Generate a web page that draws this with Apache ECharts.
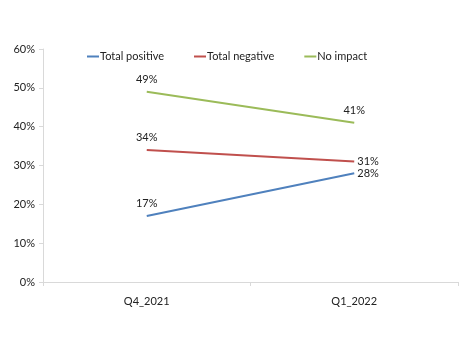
<!DOCTYPE html>
<html><head><meta charset="utf-8">
<script src="https://cdn.jsdelivr.net/npm/echarts@6/dist/echarts.min.js"></script>
<style>html,body{margin:0;padding:0;background:#fff}#c{width:468px;height:352px}</style>
</head><body><div id="c"></div>
<script>
const categories = ['Q4_2021', 'Q1_2022'];
const totalPositive = [17, 28];
const totalNegative = [34, 31];
const noImpact = [49, 41];
const yTicks = [0, 10, 20, 30, 40, 50, 60];

const font = 'Lato';
const chart = echarts.init(document.getElementById('c'));
function series(name, data, color, posArr) {
  return {
    name, type: 'line', data: data.map((v, i) => ({
      value: v,
      label: { position: posArr[i], distance: posArr[i] === 'right' ? 3 : 7 }
    })),
    symbol: 'circle', symbolSize: 0, showSymbol: true,
    lineStyle: { color, width: 2 }, itemStyle: { color },
    label: { show: true, fontFamily: font, fontSize: 11, color: '#222', formatter: p => p.value + '%' },
    animation: false
  };
}
chart.setOption({
  animation: false,
  grid: { left: 43, right: 10, top: 49, bottom: 70 },
  legend: {
    left: 82, top: 46, itemWidth: 12, itemHeight: 2, itemGap: 30,
    icon: 'rect',
    textStyle: { fontFamily: font, fontSize: 11, color: '#222', padding: [0, 0, 0, -4] },
    data: ['Total positive', 'Total negative', 'No impact']
  },
  xAxis: {
    type: 'category', data: categories, boundaryGap: true,
    axisLine: { lineStyle: { color: '#d9d9d9' } },
    axisTick: { show: true, lineStyle: { color: '#d9d9d9' }, length: 4 },
    axisLabel: { fontFamily: font, fontSize: 11, color: '#222', margin: 14 }
  },
  yAxis: {
    type: 'value', min: 0, max: 60, interval: 10,
    axisLine: { show: true, lineStyle: { color: '#d9d9d9' } },
    axisTick: { show: true, lineStyle: { color: '#d9d9d9' }, length: 4 },
    splitLine: { show: false },
    axisLabel: { fontFamily: font, fontSize: 11, color: '#222', margin: 8,
      formatter: v => yTicks.includes(v) ? v + '%' : '' }
  },
  series: [
    series('Total positive', totalPositive, '#4F81BD', ['top', 'right']),
    series('Total negative', totalNegative, '#C0504D', ['top', 'right']),
    series('No impact', noImpact, '#9BBB59', ['top', 'top'])
  ]
});
</script></body></html>
